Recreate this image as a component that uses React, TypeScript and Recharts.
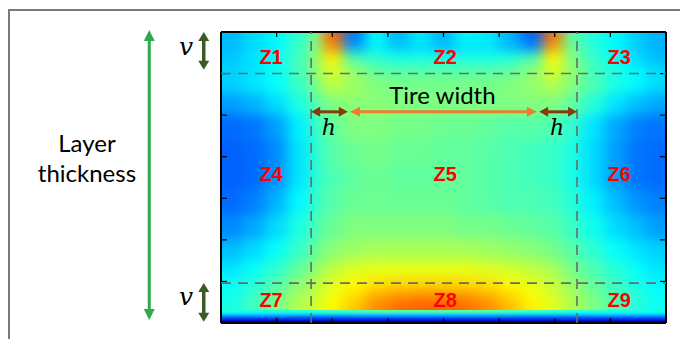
import React from 'react';
import { ScatterChart, Scatter, XAxis, YAxis, ReferenceLine, ReferenceDot } from 'recharts';

// grid of the field (data units: x 0..8 across, y 0..7 bottom to top)
const colEdges = [0, 0.4, 0.8, 1.2, 1.6, 1.85, 2.2, 2.6, 3.0, 3.4, 3.8, 4.2, 4.6, 5.0, 5.4, 5.8, 6.15, 6.5, 6.9, 7.3, 7.65, 8];
const rowEdges = [7, 6.75, 6.5, 6.2, 5.9, 5.5, 5.0, 4.4, 3.8, 3.2, 2.6, 2.0, 1.5, 1.1, 0.8, 0.55, 0.3];
const stripEdges = [0.3, 0.22, 0.15, 0.07, 0];

// values in % of the colour scale, rows top -> bottom
const heat = [
  [31, 34, 37, 42, 50, 78, 24, 38, 30, 36, 30, 37, 36, 30, 22, 77, 46, 41, 37, 33, 30],
  [31, 34, 37, 43, 51, 74, 28, 36, 32, 34, 31, 35, 35, 31, 26, 72, 48, 41, 37, 33, 30],
  [32, 35, 38, 44, 52, 64, 45, 42, 40, 40, 40, 40, 40, 41, 45, 63, 50, 43, 38, 34, 31],
  [33, 35, 38, 44, 52, 59, 52, 47, 46, 46, 46, 46, 46, 47, 51, 59, 52, 44, 40, 37, 34],
  [33, 35, 38, 43, 50, 56, 53, 50, 49, 49, 49, 49, 49, 50, 52, 55, 50, 45, 40, 37, 34],
  [28, 30, 34, 40, 46, 50, 51, 51, 50, 50, 50, 50, 50, 50, 50, 50, 47, 41, 35, 31, 29],
  [23, 24, 28, 36, 43, 47, 50, 50, 49, 49, 48, 48, 47, 46, 46, 45, 42, 35, 29, 25, 24],
  [22, 23, 26, 35, 42, 46, 48, 49, 48, 48, 47, 47, 46, 45, 44, 43, 40, 34, 28, 24, 23],
  [22, 23, 27, 35, 42, 45, 47, 48, 47, 47, 47, 47, 46, 45, 44, 43, 40, 34, 28, 24, 23],
  [23, 25, 30, 37, 43, 46, 48, 48, 48, 48, 48, 47, 46, 45, 45, 44, 41, 36, 31, 27, 25],
  [26, 29, 34, 40, 45, 48, 50, 50, 50, 50, 50, 49, 49, 48, 47, 46, 43, 39, 34, 31, 28],
  [31, 34, 38, 43, 48, 51, 53, 54, 54, 54, 54, 54, 53, 52, 51, 49, 46, 42, 38, 35, 33],
  [35, 38, 42, 47, 52, 56, 59, 60, 60, 60, 60, 60, 59, 58, 56, 54, 49, 45, 41, 38, 35],
  [38, 41, 45, 51, 56, 60, 63, 65, 66, 66, 66, 66, 65, 63, 60, 57, 52, 47, 43, 40, 37],
  [39, 43, 48, 53, 57, 61, 65, 70, 72, 73, 73, 72, 70, 66, 62, 58, 54, 49, 44, 41, 38],
  [40, 44, 49, 55, 59, 63, 68, 74, 77, 78, 78, 77, 74, 69, 64, 60, 55, 50, 45, 41, 39],
];

// thin bottom strip, rows top -> bottom
const strip = [
  [40, 40, 41, 42, 43, 44, 45, 46, 46, 46, 46, 46, 46, 45, 44, 43, 42, 41, 40, 40, 39],
  [32, 32, 32, 32, 32, 32, 32, 32, 32, 32, 32, 32, 32, 32, 32, 32, 32, 32, 32, 32, 32],
  [20, 20, 20, 20, 20, 20, 20, 20, 20, 20, 20, 20, 20, 20, 20, 20, 20, 20, 20, 20, 20],
  [6, 6, 6, 6, 6, 6, 6, 6, 6, 6, 6, 6, 6, 6, 6, 6, 6, 6, 6, 6, 6],
];

const xTicks = [0, 1, 2, 3, 4, 5, 6, 7, 8];
const yTicks = [0, 1, 2, 3, 4, 5, 6, 7];

// zone boundaries (dashed)
const dashX = [1.62, 6.4];
const dashY = [6.0, 0.96];

const zoneNames = [['Z1', 'Z2', 'Z3'], ['Z4', 'Z5', 'Z6'], ['Z7', 'Z8', 'Z9']];
const zoneX = [0.9, 4.03, 7.16];
const zoneY = [6.23, 3.42, 0.39];

const W = 680;
const H = 339;
const margin = { top: 32, right: 14, bottom: 16, left: 221 };
const pxX = (W - margin.left - margin.right) / 8;
const pxY = (H - margin.top - margin.bottom) / 7;

const toCells = (grid: number[][], rows: number[]) =>
  grid.flatMap((row, r) =>
    row.map((v, c) => ({
      x: (colEdges[c] + colEdges[c + 1]) / 2,
      y: (rows[r] + rows[r + 1]) / 2,
      w: colEdges[c + 1] - colEdges[c],
      h: rows[r] - rows[r + 1],
      v: v / 100,
    }))
  );

const fieldCells = toCells(heat, rowEdges);
const stripCells = toCells(strip, stripEdges);

function jet(v: number) {
  const f = (t: number) => Math.round(255 * Math.max(0, Math.min(1, t)));
  return `rgb(${f(1.5 - Math.abs(4 * v - 3))},${f(1.5 - Math.abs(4 * v - 2))},${f(1.5 - Math.abs(4 * v - 1))})`;
}

const HeatCell = (p: any) => {
  const w = p.payload.w * pxX;
  const h = p.payload.h * pxY;
  return <rect x={p.cx - w / 2 - 0.5} y={p.cy - h / 2 - 0.5} width={w + 1} height={h + 1} fill={jet(p.payload.v)} />;
};

const arrow = (color: string, sw: number, hl: number, hw: number) => (p: any) => {
  const { x1, y1, x2, y2 } = p;
  const len = Math.hypot(x2 - x1, y2 - y1) || 1;
  const dx = (x2 - x1) / len;
  const dy = (y2 - y1) / len;
  const nx = -dy;
  const ny = dx;
  const head = (tx: number, ty: number, s: number) => {
    const bx = tx + s * dx * hl;
    const by = ty + s * dy * hl;
    return `${tx},${ty} ${bx + nx * hw},${by + ny * hw} ${bx - nx * hw},${by - ny * hw}`;
  };
  return (
    <g>
      <line x1={x1 + dx * hl * 0.8} y1={y1 + dy * hl * 0.8} x2={x2 - dx * hl * 0.8} y2={y2 - dy * hl * 0.8} stroke={color} strokeWidth={sw} />
      <polygon points={head(x1, y1, 1)} fill={color} />
      <polygon points={head(x2, y2, -1)} fill={color} />
    </g>
  );
};

const note = (text: string, style: any) => (p: any) => (
  <text x={p.cx} y={p.cy} textAnchor="middle" {...style}>{text}</text>
);

const bigText = { fontFamily: 'Lato, sans-serif', fontSize: 24, fill: '#000' };
const vText = { fontFamily: '"DejaVu Serif", serif', fontStyle: 'italic', fontSize: 25, fill: '#000' };
const hText = { fontFamily: '"DejaVu Serif", serif', fontStyle: 'italic', fontSize: 22, fill: '#000' };
const zoneText = { fontFamily: '"Liberation Sans", Arial, sans-serif', fontWeight: 700, fontSize: 20, fill: '#ff0000' };

const axisLine = { stroke: '#000', strokeWidth: 2 };
const tickLine = { stroke: '#000', strokeWidth: 1.2 };
const blank = () => '';

export default function App() {
  return (
    <div style={{ position: 'absolute', left: 0, top: 0, width: W, height: H, overflow: 'hidden', background: '#fff' }}>
      <style>{'.heat { filter: url(#heatBlur); } .heat-strip { filter: url(#stripBlur); }'}</style>
      <div style={{ position: 'absolute', left: 8, top: 9, width: 800, height: 500, borderTop: '2px solid #7a7a7a', borderLeft: '2px solid #7a7a7a' }} />
      <div style={{ position: 'absolute', left: 0, top: 0 }}>
        <ScatterChart width={W} height={H} margin={margin}>
          <defs>
            <filter id="heatBlur" x="0" y="0" width="1" height="1" colorInterpolationFilters="sRGB">
              <feGaussianBlur stdDeviation="7 6" />
              <feComponentTransfer>
                <feFuncA type="table" tableValues="1 1" />
              </feComponentTransfer>
            </filter>
            <filter id="stripBlur" x="0" y="0" width="1" height="1" colorInterpolationFilters="sRGB">
              <feGaussianBlur stdDeviation="6 1.2" />
              <feComponentTransfer>
                <feFuncA type="table" tableValues="1 1" />
              </feComponentTransfer>
            </filter>
          </defs>
          <Scatter data={fieldCells} xAxisId="b" yAxisId="l" dataKey="y" shape={HeatCell} className="heat" isAnimationActive={false} zIndex={50} />
          <Scatter data={stripCells} xAxisId="b" yAxisId="l" dataKey="y" shape={HeatCell} className="heat-strip" isAnimationActive={false} zIndex={60} />

          <XAxis xAxisId="b" type="number" dataKey="x" domain={[0, 8]} ticks={xTicks} orientation="bottom" mirror height={6}
            tickSize={5} tickFormatter={blank} axisLine={axisLine} tickLine={tickLine} allowDataOverflow />
          <XAxis xAxisId="t" type="number" dataKey="x" domain={[0, 8]} ticks={xTicks} orientation="top" mirror height={6}
            tickSize={5} tickFormatter={blank} axisLine={axisLine} tickLine={tickLine} allowDataOverflow />
          <YAxis yAxisId="l" type="number" dataKey="y" domain={[0, 7]} ticks={yTicks} orientation="left" mirror width={6}
            tickSize={6} tickFormatter={blank} axisLine={axisLine} tickLine={tickLine} allowDataOverflow />
          <YAxis yAxisId="r" type="number" dataKey="y" domain={[0, 7]} ticks={yTicks} orientation="right" mirror width={6}
            tickSize={6} tickFormatter={blank} axisLine={axisLine} tickLine={tickLine} allowDataOverflow />

          {dashX.map((x) => (
            <ReferenceLine key={'dx' + x} xAxisId="b" yAxisId="l" x={x} stroke="#6b6b6b" strokeWidth={1.6} strokeDasharray="10 7" zIndex={700} />
          ))}
          {dashY.map((y) => (
            <ReferenceLine key={'dy' + y} xAxisId="b" yAxisId="l" y={y} stroke="#6b6b6b" strokeWidth={1.6} strokeDasharray="10 7" zIndex={700} />
          ))}

          {/* layer thickness */}
          <ReferenceLine xAxisId="b" yAxisId="l" segment={[{ x: -1.29, y: 7.05 }, { x: -1.29, y: 0.07 }]} ifOverflow="visible"
            shape={arrow('#2ea94f', 3, 11, 5.5)} zIndex={800} />
          {/* v arrows */}
          <ReferenceLine xAxisId="b" yAxisId="l" segment={[{ x: -0.31, y: 7.0 }, { x: -0.31, y: 6.09 }]} ifOverflow="visible"
            shape={arrow('#3b5a26', 3.5, 9, 5.5)} zIndex={800} />
          <ReferenceLine xAxisId="b" yAxisId="l" segment={[{ x: -0.31, y: 0.96 }, { x: -0.31, y: 0.03 }]} ifOverflow="visible"
            shape={arrow('#3b5a26', 3.5, 9, 5.5)} zIndex={800} />
          {/* h and tire width arrows */}
          <ReferenceLine xAxisId="b" yAxisId="l" segment={[{ x: 1.62, y: 5.08 }, { x: 2.28, y: 5.08 }]} ifOverflow="visible"
            shape={arrow('#843c0c', 3, 9, 5)} zIndex={800} />
          <ReferenceLine xAxisId="b" yAxisId="l" segment={[{ x: 2.32, y: 5.08 }, { x: 5.68, y: 5.08 }]} ifOverflow="visible"
            shape={arrow('#ed7d31', 3, 10, 5)} zIndex={800} />
          <ReferenceLine xAxisId="b" yAxisId="l" segment={[{ x: 5.72, y: 5.08 }, { x: 6.4, y: 5.08 }]} ifOverflow="visible"
            shape={arrow('#843c0c', 3, 9, 5)} zIndex={800} />

          <ReferenceDot xAxisId="b" yAxisId="l" x={-2.41} y={4.11} ifOverflow="visible" shape={note('Layer', bigText)} zIndex={900} />
          <ReferenceDot xAxisId="b" yAxisId="l" x={-2.41} y={3.38} ifOverflow="visible" shape={note('thickness', bigText)} zIndex={900} />
          <ReferenceDot xAxisId="b" yAxisId="l" x={3.98} y={5.27} ifOverflow="visible" shape={note('Tire width', bigText)} zIndex={900} />
          <ReferenceDot xAxisId="b" yAxisId="l" x={-0.63} y={6.45} ifOverflow="visible" shape={note('v', vText)} zIndex={900} />
          <ReferenceDot xAxisId="b" yAxisId="l" x={-0.63} y={0.43} ifOverflow="visible" shape={note('v', vText)} zIndex={900} />
          <ReferenceDot xAxisId="b" yAxisId="l" x={1.94} y={4.52} ifOverflow="visible" shape={note('h', hText)} zIndex={900} />
          <ReferenceDot xAxisId="b" yAxisId="l" x={6.04} y={4.52} ifOverflow="visible" shape={note('h', hText)} zIndex={900} />

          {zoneNames.map((row, r) =>
            row.map((name, c) => (
              <ReferenceDot key={name} xAxisId="b" yAxisId="l" x={zoneX[c]} y={zoneY[r]} ifOverflow="visible"
                shape={note(name, zoneText)} zIndex={900} />
            ))
          )}
        </ScatterChart>
      </div>
    </div>
  );
}
